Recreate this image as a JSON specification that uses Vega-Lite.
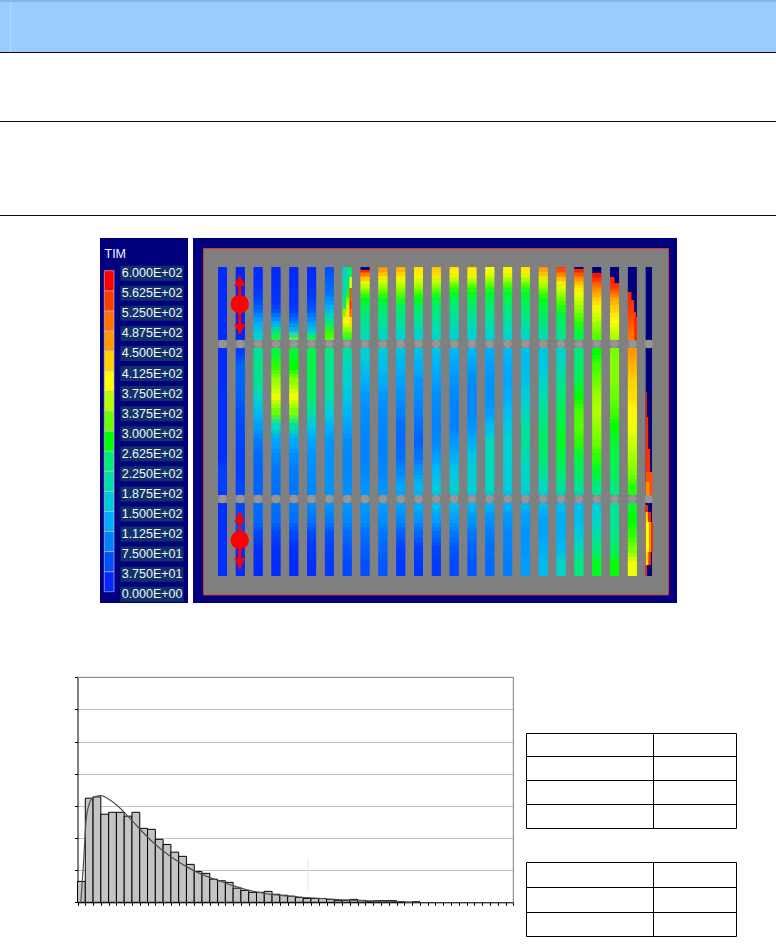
{"$schema":"https://vega.github.io/schema/vega-lite/v6.json","width":776,"height":948,"padding":0,"autosize":{"type":"none"},"background":"#ffffff","config":{"view":{"stroke":null}},
"datasets":{
"page":[
{"part":"band","x":0,"x2":776,"y":0,"y2":52},
{"part":"bandTop","x":0,"x2":776,"y":0,"y2":2},
{"part":"bandEdge","x":10,"x2":11,"y":2,"y2":52},
{"part":"line","x":0,"x2":776,"y":52,"y2":53},
{"part":"line","x":0,"x2":776,"y":121,"y2":122},
{"part":"line","x":0,"x2":776,"y":215,"y2":216},
{"part":"navy","x":100,"x2":188,"y":238,"y2":603},
{"part":"navy","x":193,"x2":677,"y":238,"y2":603},
{"part":"plate","x":203.5,"x2":668.5,"y":248.5,"y2":595},
{"part":"table","x":526.5,"x2":653.5,"y":733.5,"y2":756.5},
{"part":"table","x":653.5,"x2":736.5,"y":733.5,"y2":756.5},
{"part":"table","x":526.5,"x2":653.5,"y":756.5,"y2":780.5},
{"part":"table","x":653.5,"x2":736.5,"y":756.5,"y2":780.5},
{"part":"table","x":526.5,"x2":653.5,"y":780.5,"y2":804.5},
{"part":"table","x":653.5,"x2":736.5,"y":780.5,"y2":804.5},
{"part":"table","x":526.5,"x2":653.5,"y":804.5,"y2":828.5},
{"part":"table","x":653.5,"x2":736.5,"y":804.5,"y2":828.5},
{"part":"table","x":526.5,"x2":653.5,"y":862.5,"y2":887.5},
{"part":"table","x":653.5,"x2":736.5,"y":862.5,"y2":887.5},
{"part":"table","x":526.5,"x2":653.5,"y":887.5,"y2":912.5},
{"part":"table","x":653.5,"x2":736.5,"y":887.5,"y2":912.5},
{"part":"table","x":526.5,"x2":653.5,"y":912.5,"y2":936.5},
{"part":"table","x":653.5,"x2":736.5,"y":912.5,"y2":936.5}
],
"legendSteps":[
{"lo":0,"hi":37.5,"mid":18},{"lo":37.5,"hi":75,"mid":56},{"lo":75,"hi":112.5,"mid":94},{"lo":112.5,"hi":150,"mid":131},{"lo":150,"hi":187.5,"mid":169},{"lo":187.5,"hi":225,"mid":206},{"lo":225,"hi":262.5,"mid":244},{"lo":262.5,"hi":300,"mid":295},{"lo":300,"hi":337.5,"mid":319},{"lo":337.5,"hi":375,"mid":356},{"lo":375,"hi":412.5,"mid":400},{"lo":412.5,"hi":450,"mid":431},{"lo":450,"hi":487.5,"mid":469},{"lo":487.5,"hi":525,"mid":506},{"lo":525,"hi":562.5,"mid":544},{"lo":562.5,"hi":600,"mid":590}
],
"legendLabels":[
{"value":600,"label":"6.000E+02"},{"value":562.5,"label":"5.625E+02"},{"value":525,"label":"5.250E+02"},{"value":487.5,"label":"4.875E+02"},{"value":450,"label":"4.500E+02"},{"value":412.5,"label":"4.125E+02"},{"value":375,"label":"3.750E+02"},{"value":337.5,"label":"3.375E+02"},{"value":300,"label":"3.000E+02"},{"value":262.5,"label":"2.625E+02"},{"value":225,"label":"2.250E+02"},{"value":187.5,"label":"1.875E+02"},{"value":150,"label":"1.500E+02"},{"value":112.5,"label":"1.125E+02"},{"value":75,"label":"7.500E+01"},{"value":37.5,"label":"3.750E+01"},{"value":0,"label":"0.000E+00"}
],
"cells":[
{"s":1,"a":0,"b":122,"v":20},{"s":1,"a":122,"b":197,"v":25},{"s":1,"a":197,"b":228,"v":40},{"s":1,"a":228,"b":309,"v":25},
{"s":2,"a":0,"b":77,"v":15},{"s":2,"a":77,"b":92,"v":40},{"s":2,"a":92,"b":122,"v":70},{"s":2,"a":122,"b":137,"v":65},{"s":2,"a":137,"b":152,"v":55},{"s":2,"a":152,"b":167,"v":50},{"s":2,"a":167,"b":182,"v":45},{"s":2,"a":182,"b":212,"v":40},{"s":2,"a":212,"b":245,"v":50},{"s":2,"a":245,"b":275,"v":45},{"s":2,"a":275,"b":309,"v":20},
{"s":3,"a":0,"b":5,"v":20},{"s":3,"a":5,"b":10,"v":20},{"s":3,"a":10,"b":15,"v":22},{"s":3,"a":15,"b":21,"v":25},{"s":3,"a":21,"b":27,"v":30},{"s":3,"a":27,"b":34,"v":40},{"s":3,"a":34,"b":42,"v":60},{"s":3,"a":42,"b":50,"v":85},{"s":3,"a":50,"b":60,"v":130},{"s":3,"a":60,"b":70,"v":170},{"s":3,"a":70,"b":77,"v":190},{"s":3,"a":77,"b":92,"v":215},{"s":3,"a":92,"b":107,"v":230},{"s":3,"a":107,"b":122,"v":225},{"s":3,"a":122,"b":137,"v":190},{"s":3,"a":137,"b":152,"v":150},{"s":3,"a":152,"b":167,"v":120},{"s":3,"a":167,"b":182,"v":90},{"s":3,"a":182,"b":197,"v":75},{"s":3,"a":197,"b":212,"v":70},{"s":3,"a":212,"b":228,"v":70},{"s":3,"a":228,"b":245,"v":75},{"s":3,"a":245,"b":260,"v":75},{"s":3,"a":260,"b":275,"v":45},{"s":3,"a":275,"b":290,"v":25},{"s":3,"a":290,"b":309,"v":20},
{"s":4,"a":0,"b":5,"v":20},{"s":4,"a":5,"b":10,"v":20},{"s":4,"a":10,"b":15,"v":20},{"s":4,"a":15,"b":21,"v":22},{"s":4,"a":21,"b":27,"v":25},{"s":4,"a":27,"b":34,"v":28},{"s":4,"a":34,"b":42,"v":35},{"s":4,"a":42,"b":50,"v":60},{"s":4,"a":50,"b":60,"v":125},{"s":4,"a":60,"b":70,"v":230},{"s":4,"a":70,"b":77,"v":300},{"s":4,"a":77,"b":92,"v":280},{"s":4,"a":92,"b":107,"v":300},{"s":4,"a":107,"b":122,"v":345},{"s":4,"a":122,"b":137,"v":385},{"s":4,"a":137,"b":152,"v":320},{"s":4,"a":152,"b":167,"v":190},{"s":4,"a":167,"b":182,"v":125},{"s":4,"a":182,"b":197,"v":100},{"s":4,"a":197,"b":212,"v":85},{"s":4,"a":212,"b":228,"v":80},{"s":4,"a":228,"b":245,"v":80},{"s":4,"a":245,"b":260,"v":75},{"s":4,"a":260,"b":275,"v":45},{"s":4,"a":275,"b":290,"v":25},{"s":4,"a":290,"b":309,"v":20},
{"s":5,"a":0,"b":5,"v":20},{"s":5,"a":5,"b":10,"v":20},{"s":5,"a":10,"b":15,"v":20},{"s":5,"a":15,"b":21,"v":22},{"s":5,"a":21,"b":27,"v":25},{"s":5,"a":27,"b":34,"v":28},{"s":5,"a":34,"b":42,"v":32},{"s":5,"a":42,"b":50,"v":45},{"s":5,"a":50,"b":60,"v":90},{"s":5,"a":60,"b":70,"v":170},{"s":5,"a":70,"b":77,"v":340},{"s":5,"a":77,"b":92,"v":285},{"s":5,"a":92,"b":107,"v":295},{"s":5,"a":107,"b":122,"v":340},{"s":5,"a":122,"b":137,"v":390},{"s":5,"a":137,"b":152,"v":330},{"s":5,"a":152,"b":167,"v":210},{"s":5,"a":167,"b":182,"v":130},{"s":5,"a":182,"b":197,"v":105},{"s":5,"a":197,"b":212,"v":90},{"s":5,"a":212,"b":228,"v":85},{"s":5,"a":228,"b":245,"v":90},{"s":5,"a":245,"b":260,"v":80},{"s":5,"a":260,"b":275,"v":48},{"s":5,"a":275,"b":290,"v":25},{"s":5,"a":290,"b":309,"v":20},
{"s":6,"a":0,"b":5,"v":20},{"s":6,"a":5,"b":10,"v":22},{"s":6,"a":10,"b":15,"v":24},{"s":6,"a":15,"b":21,"v":26},{"s":6,"a":21,"b":27,"v":30},{"s":6,"a":27,"b":34,"v":35},{"s":6,"a":34,"b":42,"v":50},{"s":6,"a":42,"b":50,"v":70},{"s":6,"a":50,"b":60,"v":115},{"s":6,"a":60,"b":70,"v":180},{"s":6,"a":70,"b":77,"v":300},{"s":6,"a":77,"b":92,"v":270},{"s":6,"a":92,"b":107,"v":275},{"s":6,"a":107,"b":122,"v":265},{"s":6,"a":122,"b":137,"v":250},{"s":6,"a":137,"b":152,"v":215},{"s":6,"a":152,"b":167,"v":165},{"s":6,"a":167,"b":182,"v":125},{"s":6,"a":182,"b":197,"v":110},{"s":6,"a":197,"b":212,"v":105},{"s":6,"a":212,"b":228,"v":100},{"s":6,"a":228,"b":245,"v":100},{"s":6,"a":245,"b":260,"v":85},{"s":6,"a":260,"b":275,"v":50},{"s":6,"a":275,"b":290,"v":35},{"s":6,"a":290,"b":309,"v":25},
{"s":7,"a":0,"b":5,"v":55},{"s":7,"a":5,"b":10,"v":60},{"s":7,"a":10,"b":15,"v":65},{"s":7,"a":15,"b":21,"v":72},{"s":7,"a":21,"b":27,"v":80},{"s":7,"a":27,"b":34,"v":95},{"s":7,"a":34,"b":42,"v":125},{"s":7,"a":42,"b":50,"v":170},{"s":7,"a":50,"b":60,"v":235},{"s":7,"a":60,"b":70,"v":300},{"s":7,"a":70,"b":77,"v":325},{"s":7,"a":77,"b":92,"v":240},{"s":7,"a":92,"b":107,"v":225},{"s":7,"a":107,"b":122,"v":225},{"s":7,"a":122,"b":137,"v":210},{"s":7,"a":137,"b":152,"v":175},{"s":7,"a":152,"b":167,"v":140},{"s":7,"a":167,"b":182,"v":115},{"s":7,"a":182,"b":197,"v":110},{"s":7,"a":197,"b":212,"v":110},{"s":7,"a":212,"b":228,"v":110},{"s":7,"a":228,"b":245,"v":110},{"s":7,"a":245,"b":260,"v":90},{"s":7,"a":260,"b":275,"v":55},{"s":7,"a":275,"b":290,"v":42},{"s":7,"a":290,"b":309,"v":35},
{"s":8,"a":0,"b":5,"v":200},{"s":8,"a":5,"b":10,"v":200},{"s":8,"a":10,"b":15,"v":220},{"s":8,"a":15,"b":21,"v":230},{"s":8,"a":21,"b":27,"v":250},{"s":8,"a":27,"b":34,"v":300},{"s":8,"a":34,"b":42,"v":370},{"s":8,"a":42,"b":50,"v":420},{"s":8,"a":50,"b":60,"v":400},{"s":8,"a":60,"b":70,"v":320},{"s":8,"a":70,"b":77,"v":280},{"s":8,"a":77,"b":92,"v":215},{"s":8,"a":92,"b":107,"v":190},{"s":8,"a":107,"b":122,"v":180},{"s":8,"a":122,"b":137,"v":165},{"s":8,"a":137,"b":152,"v":145},{"s":8,"a":152,"b":167,"v":125},{"s":8,"a":167,"b":182,"v":105},{"s":8,"a":182,"b":197,"v":100},{"s":8,"a":197,"b":212,"v":100},{"s":8,"a":212,"b":228,"v":105},{"s":8,"a":228,"b":245,"v":110},{"s":8,"a":245,"b":260,"v":100},{"s":8,"a":260,"b":275,"v":75},{"s":8,"a":275,"b":290,"v":60},{"s":8,"a":290,"b":309,"v":50},
{"s":9,"a":0,"b":5,"v":590},{"s":9,"a":5,"b":10,"v":500},{"s":9,"a":10,"b":15,"v":410},{"s":9,"a":15,"b":21,"v":380},{"s":9,"a":21,"b":27,"v":330},{"s":9,"a":27,"b":34,"v":295},{"s":9,"a":34,"b":42,"v":270},{"s":9,"a":42,"b":50,"v":250},{"s":9,"a":50,"b":60,"v":225},{"s":9,"a":60,"b":70,"v":205},{"s":9,"a":70,"b":77,"v":190},{"s":9,"a":77,"b":92,"v":175},{"s":9,"a":92,"b":107,"v":160},{"s":9,"a":107,"b":122,"v":135},{"s":9,"a":122,"b":137,"v":115},{"s":9,"a":137,"b":152,"v":105},{"s":9,"a":152,"b":167,"v":100},{"s":9,"a":167,"b":182,"v":95},{"s":9,"a":182,"b":197,"v":95},{"s":9,"a":197,"b":212,"v":100},{"s":9,"a":212,"b":228,"v":110},{"s":9,"a":228,"b":245,"v":115},{"s":9,"a":245,"b":260,"v":105},{"s":9,"a":260,"b":275,"v":80},{"s":9,"a":275,"b":290,"v":65},{"s":9,"a":290,"b":309,"v":55},
{"s":10,"a":0,"b":5,"v":490},{"s":10,"a":5,"b":10,"v":430},{"s":10,"a":10,"b":15,"v":390},{"s":10,"a":15,"b":21,"v":350},{"s":10,"a":21,"b":27,"v":320},{"s":10,"a":27,"b":34,"v":295},{"s":10,"a":34,"b":42,"v":265},{"s":10,"a":42,"b":50,"v":245},{"s":10,"a":50,"b":60,"v":220},{"s":10,"a":60,"b":70,"v":200},{"s":10,"a":70,"b":77,"v":185},{"s":10,"a":77,"b":92,"v":170},{"s":10,"a":92,"b":107,"v":155},{"s":10,"a":107,"b":122,"v":135},{"s":10,"a":122,"b":137,"v":115},{"s":10,"a":137,"b":152,"v":105},{"s":10,"a":152,"b":167,"v":100},{"s":10,"a":167,"b":182,"v":95},{"s":10,"a":182,"b":197,"v":95},{"s":10,"a":197,"b":212,"v":100},{"s":10,"a":212,"b":228,"v":110},{"s":10,"a":228,"b":245,"v":120},{"s":10,"a":245,"b":260,"v":105},{"s":10,"a":260,"b":275,"v":85},{"s":10,"a":275,"b":290,"v":70},{"s":10,"a":290,"b":309,"v":60},
{"s":11,"a":0,"b":5,"v":460},{"s":11,"a":5,"b":10,"v":420},{"s":11,"a":10,"b":15,"v":395},{"s":11,"a":15,"b":21,"v":360},{"s":11,"a":21,"b":27,"v":330},{"s":11,"a":27,"b":34,"v":300},{"s":11,"a":34,"b":42,"v":265},{"s":11,"a":42,"b":50,"v":245},{"s":11,"a":50,"b":60,"v":215},{"s":11,"a":60,"b":70,"v":190},{"s":11,"a":70,"b":77,"v":175},{"s":11,"a":77,"b":92,"v":160},{"s":11,"a":92,"b":107,"v":140},{"s":11,"a":107,"b":122,"v":125},{"s":11,"a":122,"b":137,"v":110},{"s":11,"a":137,"b":152,"v":95},{"s":11,"a":152,"b":167,"v":80},{"s":11,"a":167,"b":182,"v":75},{"s":11,"a":182,"b":197,"v":80},{"s":11,"a":197,"b":212,"v":100},{"s":11,"a":212,"b":228,"v":130},{"s":11,"a":228,"b":245,"v":120},{"s":11,"a":245,"b":260,"v":100},{"s":11,"a":260,"b":275,"v":65},{"s":11,"a":275,"b":290,"v":40},{"s":11,"a":290,"b":309,"v":30},
{"s":12,"a":0,"b":5,"v":420},{"s":12,"a":5,"b":10,"v":405},{"s":12,"a":10,"b":15,"v":385},{"s":12,"a":15,"b":21,"v":350},{"s":12,"a":21,"b":27,"v":320},{"s":12,"a":27,"b":34,"v":295},{"s":12,"a":34,"b":42,"v":265},{"s":12,"a":42,"b":50,"v":245},{"s":12,"a":50,"b":60,"v":215},{"s":12,"a":60,"b":70,"v":190},{"s":12,"a":70,"b":77,"v":170},{"s":12,"a":77,"b":92,"v":155},{"s":12,"a":92,"b":107,"v":135},{"s":12,"a":107,"b":122,"v":115},{"s":12,"a":122,"b":137,"v":105},{"s":12,"a":137,"b":152,"v":95},{"s":12,"a":152,"b":167,"v":80},{"s":12,"a":167,"b":182,"v":70},{"s":12,"a":182,"b":197,"v":85},{"s":12,"a":197,"b":212,"v":115},{"s":12,"a":212,"b":228,"v":145},{"s":12,"a":228,"b":245,"v":135},{"s":12,"a":245,"b":260,"v":110},{"s":12,"a":260,"b":275,"v":70},{"s":12,"a":275,"b":290,"v":40},{"s":12,"a":290,"b":309,"v":30},
{"s":13,"a":0,"b":5,"v":440},{"s":13,"a":5,"b":10,"v":420},{"s":13,"a":10,"b":15,"v":385},{"s":13,"a":15,"b":21,"v":340},{"s":13,"a":21,"b":27,"v":310},{"s":13,"a":27,"b":34,"v":285},{"s":13,"a":34,"b":42,"v":260},{"s":13,"a":42,"b":50,"v":240},{"s":13,"a":50,"b":60,"v":215},{"s":13,"a":60,"b":70,"v":195},{"s":13,"a":70,"b":77,"v":175},{"s":13,"a":77,"b":92,"v":155},{"s":13,"a":92,"b":107,"v":135},{"s":13,"a":107,"b":122,"v":120},{"s":13,"a":122,"b":137,"v":105},{"s":13,"a":137,"b":152,"v":100},{"s":13,"a":152,"b":167,"v":95},{"s":13,"a":167,"b":182,"v":100},{"s":13,"a":182,"b":197,"v":120},{"s":13,"a":197,"b":212,"v":145},{"s":13,"a":212,"b":228,"v":165},{"s":13,"a":228,"b":245,"v":150},{"s":13,"a":245,"b":260,"v":120},{"s":13,"a":260,"b":275,"v":75},{"s":13,"a":275,"b":290,"v":45},{"s":13,"a":290,"b":309,"v":35},
{"s":14,"a":0,"b":5,"v":420},{"s":14,"a":5,"b":10,"v":400},{"s":14,"a":10,"b":15,"v":360},{"s":14,"a":15,"b":21,"v":320},{"s":14,"a":21,"b":27,"v":295},{"s":14,"a":27,"b":34,"v":275},{"s":14,"a":34,"b":42,"v":250},{"s":14,"a":42,"b":50,"v":225},{"s":14,"a":50,"b":60,"v":205},{"s":14,"a":60,"b":70,"v":185},{"s":14,"a":70,"b":77,"v":165},{"s":14,"a":77,"b":92,"v":145},{"s":14,"a":92,"b":107,"v":125},{"s":14,"a":107,"b":122,"v":110},{"s":14,"a":122,"b":137,"v":100},{"s":14,"a":137,"b":152,"v":95},{"s":14,"a":152,"b":167,"v":95},{"s":14,"a":167,"b":182,"v":115},{"s":14,"a":182,"b":197,"v":140},{"s":14,"a":197,"b":212,"v":165},{"s":14,"a":212,"b":228,"v":180},{"s":14,"a":228,"b":245,"v":150},{"s":14,"a":245,"b":260,"v":120},{"s":14,"a":260,"b":275,"v":85},{"s":14,"a":275,"b":290,"v":60},{"s":14,"a":290,"b":309,"v":50},
{"s":15,"a":0,"b":5,"v":420},{"s":15,"a":5,"b":10,"v":400},{"s":15,"a":10,"b":15,"v":360},{"s":15,"a":15,"b":21,"v":320},{"s":15,"a":21,"b":27,"v":295},{"s":15,"a":27,"b":34,"v":280},{"s":15,"a":34,"b":42,"v":255},{"s":15,"a":42,"b":50,"v":230},{"s":15,"a":50,"b":60,"v":205},{"s":15,"a":60,"b":70,"v":185},{"s":15,"a":70,"b":77,"v":165},{"s":15,"a":77,"b":92,"v":140},{"s":15,"a":92,"b":107,"v":120},{"s":15,"a":107,"b":122,"v":105},{"s":15,"a":122,"b":137,"v":100},{"s":15,"a":137,"b":152,"v":100},{"s":15,"a":152,"b":167,"v":110},{"s":15,"a":167,"b":182,"v":135},{"s":15,"a":182,"b":197,"v":165},{"s":15,"a":197,"b":212,"v":175},{"s":15,"a":212,"b":228,"v":175},{"s":15,"a":228,"b":245,"v":145},{"s":15,"a":245,"b":260,"v":115},{"s":15,"a":260,"b":275,"v":85},{"s":15,"a":275,"b":290,"v":70},{"s":15,"a":290,"b":309,"v":60},
{"s":16,"a":0,"b":5,"v":400},{"s":16,"a":5,"b":10,"v":380},{"s":16,"a":10,"b":15,"v":350},{"s":16,"a":15,"b":21,"v":310},{"s":16,"a":21,"b":27,"v":290},{"s":16,"a":27,"b":34,"v":275},{"s":16,"a":34,"b":42,"v":255},{"s":16,"a":42,"b":50,"v":235},{"s":16,"a":50,"b":60,"v":210},{"s":16,"a":60,"b":70,"v":190},{"s":16,"a":70,"b":77,"v":165},{"s":16,"a":77,"b":92,"v":135},{"s":16,"a":92,"b":107,"v":120},{"s":16,"a":107,"b":122,"v":110},{"s":16,"a":122,"b":137,"v":110},{"s":16,"a":137,"b":152,"v":120},{"s":16,"a":152,"b":167,"v":150},{"s":16,"a":167,"b":182,"v":190},{"s":16,"a":182,"b":197,"v":195},{"s":16,"a":197,"b":212,"v":195},{"s":16,"a":212,"b":228,"v":190},{"s":16,"a":228,"b":245,"v":140},{"s":16,"a":245,"b":260,"v":110},{"s":16,"a":260,"b":275,"v":90},{"s":16,"a":275,"b":290,"v":80},{"s":16,"a":290,"b":309,"v":75},
{"s":17,"a":0,"b":5,"v":410},{"s":17,"a":5,"b":10,"v":390},{"s":17,"a":10,"b":15,"v":350},{"s":17,"a":15,"b":21,"v":310},{"s":17,"a":21,"b":27,"v":290},{"s":17,"a":27,"b":34,"v":275},{"s":17,"a":34,"b":42,"v":255},{"s":17,"a":42,"b":50,"v":235},{"s":17,"a":50,"b":60,"v":210},{"s":17,"a":60,"b":70,"v":190},{"s":17,"a":70,"b":77,"v":170},{"s":17,"a":77,"b":92,"v":145},{"s":17,"a":92,"b":107,"v":130},{"s":17,"a":107,"b":122,"v":125},{"s":17,"a":122,"b":137,"v":135},{"s":17,"a":137,"b":152,"v":150},{"s":17,"a":152,"b":167,"v":165},{"s":17,"a":167,"b":182,"v":180},{"s":17,"a":182,"b":197,"v":180},{"s":17,"a":197,"b":212,"v":175},{"s":17,"a":212,"b":228,"v":170},{"s":17,"a":228,"b":245,"v":135},{"s":17,"a":245,"b":260,"v":110},{"s":17,"a":260,"b":275,"v":100},{"s":17,"a":275,"b":290,"v":95},{"s":17,"a":290,"b":309,"v":90},
{"s":18,"a":0,"b":5,"v":420},{"s":18,"a":5,"b":10,"v":390},{"s":18,"a":10,"b":15,"v":350},{"s":18,"a":15,"b":21,"v":310},{"s":18,"a":21,"b":27,"v":290},{"s":18,"a":27,"b":34,"v":280},{"s":18,"a":34,"b":42,"v":265},{"s":18,"a":42,"b":50,"v":245},{"s":18,"a":50,"b":60,"v":220},{"s":18,"a":60,"b":70,"v":195},{"s":18,"a":70,"b":77,"v":175},{"s":18,"a":77,"b":92,"v":155},{"s":18,"a":92,"b":107,"v":150},{"s":18,"a":107,"b":122,"v":160},{"s":18,"a":122,"b":137,"v":175},{"s":18,"a":137,"b":152,"v":190},{"s":18,"a":152,"b":167,"v":210},{"s":18,"a":167,"b":182,"v":215},{"s":18,"a":182,"b":197,"v":200},{"s":18,"a":197,"b":212,"v":190},{"s":18,"a":212,"b":228,"v":180},{"s":18,"a":228,"b":245,"v":140},{"s":18,"a":245,"b":260,"v":120},{"s":18,"a":260,"b":275,"v":110},{"s":18,"a":275,"b":290,"v":115},{"s":18,"a":290,"b":309,"v":120},
{"s":19,"a":0,"b":5,"v":480},{"s":19,"a":5,"b":10,"v":430},{"s":19,"a":10,"b":15,"v":380},{"s":19,"a":15,"b":21,"v":350},{"s":19,"a":21,"b":27,"v":320},{"s":19,"a":27,"b":34,"v":295},{"s":19,"a":34,"b":42,"v":280},{"s":19,"a":42,"b":50,"v":265},{"s":19,"a":50,"b":60,"v":240},{"s":19,"a":60,"b":70,"v":215},{"s":19,"a":70,"b":77,"v":190},{"s":19,"a":77,"b":92,"v":165},{"s":19,"a":92,"b":107,"v":165},{"s":19,"a":107,"b":122,"v":185},{"s":19,"a":122,"b":137,"v":205},{"s":19,"a":137,"b":152,"v":225},{"s":19,"a":152,"b":167,"v":245},{"s":19,"a":167,"b":182,"v":255},{"s":19,"a":182,"b":197,"v":250},{"s":19,"a":197,"b":212,"v":225},{"s":19,"a":212,"b":228,"v":190},{"s":19,"a":228,"b":245,"v":150},{"s":19,"a":245,"b":260,"v":125},{"s":19,"a":260,"b":275,"v":125},{"s":19,"a":275,"b":290,"v":135},{"s":19,"a":290,"b":309,"v":150},
{"s":20,"a":0,"b":5,"v":560},{"s":20,"a":5,"b":10,"v":490},{"s":20,"a":10,"b":15,"v":430},{"s":20,"a":15,"b":21,"v":390},{"s":20,"a":21,"b":27,"v":360},{"s":20,"a":27,"b":34,"v":330},{"s":20,"a":34,"b":42,"v":300},{"s":20,"a":42,"b":50,"v":280},{"s":20,"a":50,"b":60,"v":260},{"s":20,"a":60,"b":70,"v":235},{"s":20,"a":70,"b":77,"v":210},{"s":20,"a":77,"b":92,"v":185},{"s":20,"a":92,"b":107,"v":200},{"s":20,"a":107,"b":122,"v":225},{"s":20,"a":122,"b":137,"v":245},{"s":20,"a":137,"b":152,"v":265},{"s":20,"a":152,"b":167,"v":280},{"s":20,"a":167,"b":182,"v":290},{"s":20,"a":182,"b":197,"v":275},{"s":20,"a":197,"b":212,"v":250},{"s":20,"a":212,"b":228,"v":215},{"s":20,"a":228,"b":245,"v":150},{"s":20,"a":245,"b":260,"v":135},{"s":20,"a":260,"b":275,"v":135},{"s":20,"a":275,"b":290,"v":150},{"s":20,"a":290,"b":309,"v":190},
{"s":21,"a":0,"b":5,"v":590},{"s":21,"a":5,"b":10,"v":520},{"s":21,"a":10,"b":15,"v":470},{"s":21,"a":15,"b":21,"v":430},{"s":21,"a":21,"b":27,"v":400},{"s":21,"a":27,"b":34,"v":380},{"s":21,"a":34,"b":42,"v":350},{"s":21,"a":42,"b":50,"v":325},{"s":21,"a":50,"b":60,"v":300},{"s":21,"a":60,"b":70,"v":280},{"s":21,"a":70,"b":77,"v":265},{"s":21,"a":77,"b":92,"v":245},{"s":21,"a":92,"b":107,"v":255},{"s":21,"a":107,"b":122,"v":275},{"s":21,"a":122,"b":137,"v":295},{"s":21,"a":137,"b":152,"v":305},{"s":21,"a":152,"b":167,"v":310},{"s":21,"a":167,"b":182,"v":300},{"s":21,"a":182,"b":197,"v":280},{"s":21,"a":197,"b":212,"v":260},{"s":21,"a":212,"b":228,"v":220},{"s":21,"a":228,"b":245,"v":150},{"s":21,"a":245,"b":260,"v":150},{"s":21,"a":260,"b":275,"v":170},{"s":21,"a":275,"b":290,"v":200},{"s":21,"a":290,"b":309,"v":240},
{"s":22,"a":5,"b":10,"v":590},{"s":22,"a":10,"b":15,"v":560},{"s":22,"a":15,"b":21,"v":510},{"s":22,"a":21,"b":27,"v":470},{"s":22,"a":27,"b":34,"v":440},{"s":22,"a":34,"b":42,"v":410},{"s":22,"a":42,"b":50,"v":385},{"s":22,"a":50,"b":60,"v":350},{"s":22,"a":60,"b":70,"v":320},{"s":22,"a":70,"b":77,"v":305},{"s":22,"a":77,"b":92,"v":295},{"s":22,"a":92,"b":107,"v":305},{"s":22,"a":107,"b":122,"v":320},{"s":22,"a":122,"b":137,"v":345},{"s":22,"a":137,"b":152,"v":355},{"s":22,"a":152,"b":167,"v":340},{"s":22,"a":167,"b":182,"v":320},{"s":22,"a":182,"b":197,"v":300},{"s":22,"a":197,"b":212,"v":285},{"s":22,"a":212,"b":228,"v":240},{"s":22,"a":228,"b":245,"v":170},{"s":22,"a":245,"b":260,"v":185},{"s":22,"a":260,"b":275,"v":205},{"s":22,"a":275,"b":290,"v":245},{"s":22,"a":290,"b":309,"v":290},
{"s":23,"a":10,"b":21,"v":570},{"s":23,"a":21,"b":27,"v":530},{"s":23,"a":27,"b":34,"v":470},{"s":23,"a":34,"b":42,"v":440},{"s":23,"a":42,"b":50,"v":420},{"s":23,"a":50,"b":60,"v":400},{"s":23,"a":60,"b":70,"v":365},{"s":23,"a":70,"b":77,"v":340},{"s":23,"a":77,"b":92,"v":325},{"s":23,"a":92,"b":107,"v":335},{"s":23,"a":107,"b":122,"v":330},{"s":23,"a":122,"b":137,"v":320},{"s":23,"a":137,"b":152,"v":305},{"s":23,"a":152,"b":167,"v":295},{"s":23,"a":167,"b":182,"v":285},{"s":23,"a":182,"b":197,"v":275},{"s":23,"a":197,"b":212,"v":265},{"s":23,"a":212,"b":228,"v":245},{"s":23,"a":228,"b":245,"v":215},{"s":23,"a":245,"b":260,"v":225},{"s":23,"a":260,"b":275,"v":235},{"s":23,"a":275,"b":290,"v":260},{"s":23,"a":290,"b":309,"v":295},
{"s":24,"a":21,"b":27,"v":570},{"s":24,"a":27,"b":34,"v":570},{"s":24,"a":34,"b":42,"v":560},{"s":24,"a":42,"b":50,"v":545},{"s":24,"a":50,"b":60,"v":530},{"s":24,"a":60,"b":70,"v":510},{"s":24,"a":70,"b":77,"v":490},{"s":24,"a":77,"b":92,"v":470},{"s":24,"a":92,"b":107,"v":450},{"s":24,"a":107,"b":122,"v":430},{"s":24,"a":122,"b":137,"v":420},{"s":24,"a":137,"b":152,"v":405},{"s":24,"a":152,"b":167,"v":390},{"s":24,"a":167,"b":182,"v":370},{"s":24,"a":182,"b":197,"v":350},{"s":24,"a":197,"b":212,"v":330},{"s":24,"a":212,"b":228,"v":300},{"s":24,"a":228,"b":245,"v":285},{"s":24,"a":245,"b":260,"v":295},{"s":24,"a":260,"b":275,"v":300},{"s":24,"a":275,"b":290,"v":330},{"s":24,"a":290,"b":309,"v":390}
],
"navyParts":[
{"x":9,"x2":9.505,"a":0,"b":3},{"x":21,"x2":21.505,"a":0,"b":2},{"x":22,"x2":22.505,"a":0,"b":6},{"x":23,"x2":23.505,"a":0,"b":10},{"x":23.25,"x2":23.505,"a":10,"b":16},{"x":24,"x2":24.505,"a":0,"b":25},{"x":24.2,"x2":24.505,"a":25,"b":33},{"x":24.35,"x2":24.505,"a":33,"b":45},{"x":24.45,"x2":24.505,"a":45,"b":50},{"x":25,"x2":25.355,"a":0,"b":309}
],
"edgeParts":[
{"x":8,"x2":8.18,"a":0,"b":10,"v":190},{"x":8,"x2":8.18,"a":10,"b":21,"v":200},{"x":8,"x2":8.18,"a":21,"b":34,"v":210},{"x":8,"x2":8.18,"a":34,"b":42,"v":240},{"x":8,"x2":8.18,"a":42,"b":50,"v":330},
{"x":8.38,"x2":8.505,"a":0,"b":10,"v":280},{"x":8.38,"x2":8.505,"a":10,"b":21,"v":400},{"x":8.38,"x2":8.505,"a":21,"b":34,"v":530},{"x":8.38,"x2":8.505,"a":34,"b":42,"v":570},{"x":8.38,"x2":8.505,"a":42,"b":50,"v":520},{"x":8.38,"x2":8.505,"a":50,"b":60,"v":430},
{"x":24.35,"x2":24.505,"a":50,"b":75,"v":570},
{"x":25,"x2":25.07,"a":125,"b":150,"v":580},{"x":25,"x2":25.14,"a":150,"b":182,"v":570},{"x":25,"x2":25.24,"a":182,"b":205,"v":560},{"x":25,"x2":25.38,"a":205,"b":232,"v":530},{"x":25,"x2":25.2,"a":215,"b":232,"v":480},
{"x":25,"x2":25.14,"a":238,"b":245,"v":570},{"x":25,"x2":25.3,"a":245,"b":255,"v":570},{"x":25,"x2":25.4,"a":255,"b":285,"v":570},{"x":25,"x2":25.3,"a":285,"b":298,"v":570},{"x":25,"x2":25.08,"a":298,"b":309,"v":570},
{"x":25,"x2":25.12,"a":245,"b":255,"v":420},{"x":25,"x2":25.2,"a":255,"b":285,"v":400},{"x":25.2,"x2":25.3,"a":255,"b":285,"v":480},{"x":25,"x2":25.15,"a":285,"b":298,"v":420}
],
"bandParts":[{"x":0.8,"x2":25.7,"a":73,"b":81},{"x":0.8,"x2":25.7,"a":228,"b":236},{"x":0.8,"x2":25.7,"a":-12,"b":0},{"x":0.8,"x2":25.7,"a":309,"b":320}],
"dots":[
{"x":1.25,"a":77},{"x":2.25,"a":77},{"x":3.25,"a":77},{"x":4.25,"a":77},{"x":5.25,"a":77},{"x":6.25,"a":77},{"x":7.25,"a":77},{"x":8.25,"a":77},{"x":9.25,"a":77},{"x":10.25,"a":77},{"x":11.25,"a":77},{"x":12.25,"a":77},{"x":13.25,"a":77},{"x":14.25,"a":77},{"x":15.25,"a":77},{"x":16.25,"a":77},{"x":17.25,"a":77},{"x":18.25,"a":77},{"x":19.25,"a":77},{"x":20.25,"a":77},{"x":21.25,"a":77},{"x":22.25,"a":77},{"x":23.25,"a":77},{"x":24.25,"a":77},{"x":25.18,"a":77},
{"x":1.25,"a":232},{"x":2.25,"a":232},{"x":3.25,"a":232},{"x":4.25,"a":232},{"x":5.25,"a":232},{"x":6.25,"a":232},{"x":7.25,"a":232},{"x":8.25,"a":232},{"x":9.25,"a":232},{"x":10.25,"a":232},{"x":11.25,"a":232},{"x":12.25,"a":232},{"x":13.25,"a":232},{"x":14.25,"a":232},{"x":15.25,"a":232},{"x":16.25,"a":232},{"x":17.25,"a":232},{"x":18.25,"a":232},{"x":19.25,"a":232},{"x":20.25,"a":232},{"x":21.25,"a":232},{"x":22.25,"a":232},{"x":23.25,"a":232},{"x":24.25,"a":232},{"x":25.18,"a":232}
],
"gateLines":[{"x":2.22,"a":9,"b":67},{"x":2.22,"a":245,"b":302}],
"gates":[{"x":2.22,"a":37},{"x":2.22,"a":273}],
"gateHeads":[{"x":2.22,"a":14,"dir":"up"},{"x":2.22,"a":62,"dir":"down"},{"x":2.22,"a":250,"dir":"up"},{"x":2.22,"a":296,"dir":"down"}],
"bins":[
{"x":0,"x2":1,"y":0.65},{"x":1,"x2":2,"y":3.24},{"x":2,"x2":3,"y":3.28},{"x":3,"x2":4,"y":2.74},{"x":4,"x2":5,"y":2.8},{"x":5,"x2":6,"y":2.8},{"x":6,"x2":7,"y":2.68},{"x":7,"x2":8,"y":2.8},{"x":8,"x2":9,"y":2.3},{"x":9,"x2":10,"y":2.27},{"x":10,"x2":11,"y":1.96},{"x":11,"x2":12,"y":1.8},{"x":12,"x2":13,"y":1.56},{"x":13,"x2":14,"y":1.43},{"x":14,"x2":15,"y":1.18},{"x":15,"x2":16,"y":0.96},{"x":16,"x2":17,"y":0.9},{"x":17,"x2":18,"y":0.72},{"x":18,"x2":19,"y":0.67},{"x":19,"x2":20,"y":0.62},{"x":20,"x2":21,"y":0.44},{"x":21,"x2":22,"y":0.37},{"x":22,"x2":23,"y":0.31},{"x":23,"x2":24,"y":0.31},{"x":24,"x2":25,"y":0.34},{"x":25,"x2":26,"y":0.25},{"x":26,"x2":27,"y":0.22},{"x":27,"x2":28,"y":0.19},{"x":28,"x2":29,"y":0.15},{"x":29,"x2":30,"y":0.12},{"x":30,"x2":31,"y":0.12},{"x":31,"x2":32,"y":0.12},{"x":32,"x2":33,"y":0.09},{"x":33,"x2":34,"y":0.06},{"x":34,"x2":35,"y":0.06},{"x":35,"x2":36,"y":0.09},{"x":36,"x2":37,"y":0.06},{"x":37,"x2":38,"y":0.03},{"x":38,"x2":39,"y":0.05},{"x":39,"x2":40,"y":0.05},{"x":40,"x2":41,"y":0.05},{"x":41,"x2":42,"y":0.02},{"x":43,"x2":44,"y":0.02}
],
"curve":[
{"x":0.43,"y":0},{"x":0.77,"y":1.21},{"x":1.11,"y":2.56},{"x":1.54,"y":3.08},{"x":2.05,"y":3.27},{"x":2.99,"y":3.32},{"x":4.18,"y":3.18},{"x":5.25,"y":2.98},{"x":6.31,"y":2.72},{"x":7.59,"y":2.39},{"x":8.96,"y":2.04},{"x":10.58,"y":1.68},{"x":12.28,"y":1.37},{"x":13.99,"y":1.11},{"x":15.69,"y":0.9},{"x":17.83,"y":0.7},{"x":19.96,"y":0.52},{"x":22.09,"y":0.37},{"x":24.22,"y":0.27},{"x":26.78,"y":0.2},{"x":29.34,"y":0.15},{"x":33,"y":0.09},{"x":38,"y":0.04},{"x":44,"y":0.01}
],
"frame":[{"x":0,"y":7,"x2":56,"y2":7},{"x":56,"y":0,"x2":56,"y2":7}],
"mark":[{"x":29.6,"y":0.38,"y2":1.32}]
},
"resolve":{"scale":{"x":"independent","y":"independent","color":"independent","shape":"independent"}},
"layer":[
{"data":{"name":"page"},
 "encoding":{"x":{"field":"x","type":"quantitative","scale":{"domain":[0,776],"range":[0,776],"nice":false,"zero":false},"axis":null},"x2":{"field":"x2"},"y":{"field":"y","type":"quantitative","scale":{"domain":[0,948],"range":[0,948],"nice":false,"zero":false},"axis":null},"y2":{"field":"y2"}},
 "layer":[
 {"transform":[{"filter":"datum.part==='band'"}],"mark":{"type":"rect","fill":"#99ccff"}},
 {"transform":[{"filter":"datum.part==='bandTop'"}],"mark":{"type":"rect","fill":"#86b6ea"}},
 {"transform":[{"filter":"datum.part==='bandEdge'"}],"mark":{"type":"rect","fill":"#b4dcff"}},
 {"transform":[{"filter":"datum.part==='line'"}],"mark":{"type":"rect","fill":"#0a0a14"}},
 {"transform":[{"filter":"datum.part==='navy'"}],"mark":{"type":"rect","fill":"#00007f"}},
 {"transform":[{"filter":"datum.part==='plate'"}],"mark":{"type":"rect","fill":"#808080","stroke":"#e03030","strokeWidth":1}},
 {"transform":[{"filter":"datum.part==='table'"}],"mark":{"type":"rect","fill":"#ffffff","stroke":"#000000","strokeWidth":1}}
 ]},
{"layer":[
 {"data":{"name":"legendLabels"},"mark":{"type":"rect","fill":"#10306a","width":63,"height":15,"yOffset":2.5},"encoding":{"x":{"datum":52,"type":"quantitative","scale":{"domain":[0,88],"range":[100,188],"nice":false,"zero":false},"axis":null},"y":{"field":"value","type":"quantitative","scale":{"domain":[0,600],"range":[591.7,270.7],"nice":false,"zero":false},"axis":null}}},
 {"data":{"name":"legendSteps"},"mark":{"type":"rect","stroke":"#d8c8e0","strokeWidth":0.6},"encoding":{"x":{"datum":4.3,"type":"quantitative","scale":{"domain":[0,88],"range":[100,188],"nice":false,"zero":false},"axis":null},"x2":{"datum":14},"y":{"field":"lo","type":"quantitative","scale":{"domain":[0,600],"range":[591.7,270.7],"nice":false,"zero":false},"axis":null},"y2":{"field":"hi"},"color":{"field":"mid","type":"quantitative","legend":null,"scale":{"domain":[0,50,100,125,165,210,260,295,340,400,470,540,590],"range":["#0000ff","#0048ff","#0088ff","#00a4ff","#00c8e0","#00e0a0","#00f060","#00ff00","#90ff00","#ffff00","#ff9800","#ff4000","#ff0000"]}}}},
 {"data":{"name":"legendLabels"},"mark":{"type":"text","align":"left","baseline":"middle","font":"Liberation Sans","fontSize":12.5,"fill":"#f4f6ff","dy":2.5},"encoding":{"x":{"datum":21.7,"type":"quantitative","scale":{"domain":[0,88],"range":[100,188],"nice":false,"zero":false},"axis":null},"y":{"field":"value","type":"quantitative","scale":{"domain":[0,600],"range":[591.7,270.7],"nice":false,"zero":false},"axis":null},"text":{"field":"label"}}},
 {"data":{"values":[{"value":631,"label":"TIM"}]},"mark":{"type":"text","align":"left","baseline":"middle","font":"Liberation Sans","fontSize":12.5,"fill":"#f4f6ff"},"encoding":{"x":{"datum":4.5,"type":"quantitative","scale":{"domain":[0,88],"range":[100,188],"nice":false,"zero":false},"axis":null},"y":{"field":"value","type":"quantitative","scale":{"domain":[0,600],"range":[591.7,270.7],"nice":false,"zero":false},"axis":null},"text":{"field":"label"}}}
 ]},
{"data":{"name":"cells"},
 "encoding":{"x":{"field":"s","type":"nominal","axis":null,"scale":{"type":"band","domain":[1,2,3,4,5,6,7,8,9,10,11,12,13,14,15,16,17,18,19,20,21,22,23,24,25],"range":[218,654.7],"paddingInner":0.495,"paddingOuter":0}},"y":{"field":"a","type":"quantitative","axis":null,"scale":{"domain":[0,309],"range":[267,576],"nice":false,"zero":false}},"y2":{"field":"b"},"color":{"field":"v","type":"quantitative","legend":null,"scale":{"domain":[0,50,100,125,165,210,260,295,340,400,470,540,590],"range":["#0000ff","#0048ff","#0088ff","#00a4ff","#00c8e0","#00e0a0","#00f060","#00ff00","#90ff00","#ffff00","#ff9800","#ff4000","#ff0000"]}}},
 "layer":[
 {"mark":{"type":"rect","strokeWidth":0}},
 {"mark":{"type":"rect","strokeWidth":0,"opacity":0.5,"yOffset":4,"y2Offset":4}},
 {"mark":{"type":"rect","strokeWidth":0,"opacity":0.33,"yOffset":-4,"y2Offset":-4}}
 ]},
{"encoding":{"x":{"field":"x","type":"quantitative","axis":null,"scale":{"domain":[1,25],"range":[218,645.7],"nice":false,"zero":false}},"y":{"field":"a","type":"quantitative","axis":null,"scale":{"domain":[0,309],"range":[267,576],"nice":false,"zero":false}}},
 "layer":[
 {"data":{"name":"navyParts"},"mark":{"type":"rect","fill":"#00007f"},"encoding":{"x2":{"field":"x2"},"y2":{"field":"b"}}},
 {"data":{"name":"edgeParts"},"mark":{"type":"rect"},"encoding":{"x2":{"field":"x2"},"y2":{"field":"b"},"color":{"field":"v","type":"quantitative","legend":null,"scale":{"domain":[0,50,100,125,165,210,260,295,340,400,470,540,590],"range":["#0000ff","#0048ff","#0088ff","#00a4ff","#00c8e0","#00e0a0","#00f060","#00ff00","#90ff00","#ffff00","#ff9800","#ff4000","#ff0000"]}}}},
 {"data":{"name":"bandParts"},"mark":{"type":"rect","fill":"#808080"},"encoding":{"x2":{"field":"x2"},"y2":{"field":"b"}}},
 {"data":{"name":"dots"},"mark":{"type":"point","shape":"circle","filled":true,"fill":"#969696","opacity":1,"size":70}},
 {"data":{"name":"gateLines"},"mark":{"type":"rule","stroke":"#ff0000","strokeWidth":3},"encoding":{"y2":{"field":"b"}}},
 {"data":{"name":"gates"},"mark":{"type":"point","shape":"circle","filled":true,"fill":"#ff0000","opacity":1,"size":340}},
 {"data":{"name":"gateHeads"},"mark":{"type":"point","filled":true,"fill":"#ff0000","opacity":1,"size":130},"encoding":{"shape":{"field":"dir","type":"nominal","legend":null,"scale":{"domain":["up","down"],"range":["triangle-up","triangle-down"]}}}}
 ]},
{"encoding":{"x":{"field":"x","type":"quantitative","scale":{"domain":[0,56],"range":[77.5,513.3],"nice":false,"zero":false},"axis":{"values":[0,1,2,3,4,5,6,7,8,9,10,11,12,13,14,15,16,17,18,19,20,21,22,23,24,25,26,27,28,29,30,31,32,33,34,35,36,37,38,39,40,41,42,43,44,45,46,47,48,49,50,51,52,53,54,55,56],"labels":false,"title":null,"grid":false,"offset":-45.7,"domainColor":"#000000","tickColor":"#000000","tickSize":3}},"y":{"field":"y","type":"quantitative","scale":{"domain":[0,7],"range":[902.3,677.3],"nice":false,"zero":false},"axis":{"values":[0,1,2,3,4,5,6,7],"labels":false,"title":null,"grid":true,"gridColor":"#c0c0c0","gridWidth":1,"offset":-77.5,"domainColor":"#000000","tickColor":"#000000","tickSize":3}}},
 "layer":[
 {"data":{"name":"frame"},"mark":{"type":"rule","stroke":"#808080","strokeWidth":1},"encoding":{"x2":{"field":"x2"},"y2":{"field":"y2"}}},
 {"data":{"name":"mark"},"mark":{"type":"rule","stroke":"#e6e6e6","strokeWidth":1},"encoding":{"y2":{"field":"y2"}}},
 {"data":{"name":"bins"},"mark":{"type":"rect","fill":"#c4c4c4","stroke":"#000000","strokeWidth":1},"encoding":{"x2":{"field":"x2"},"y2":{"datum":0}}},
 {"data":{"name":"curve"},"mark":{"type":"line","stroke":"#505050","strokeWidth":1.2,"interpolate":"monotone"}}
 ]}
]}
